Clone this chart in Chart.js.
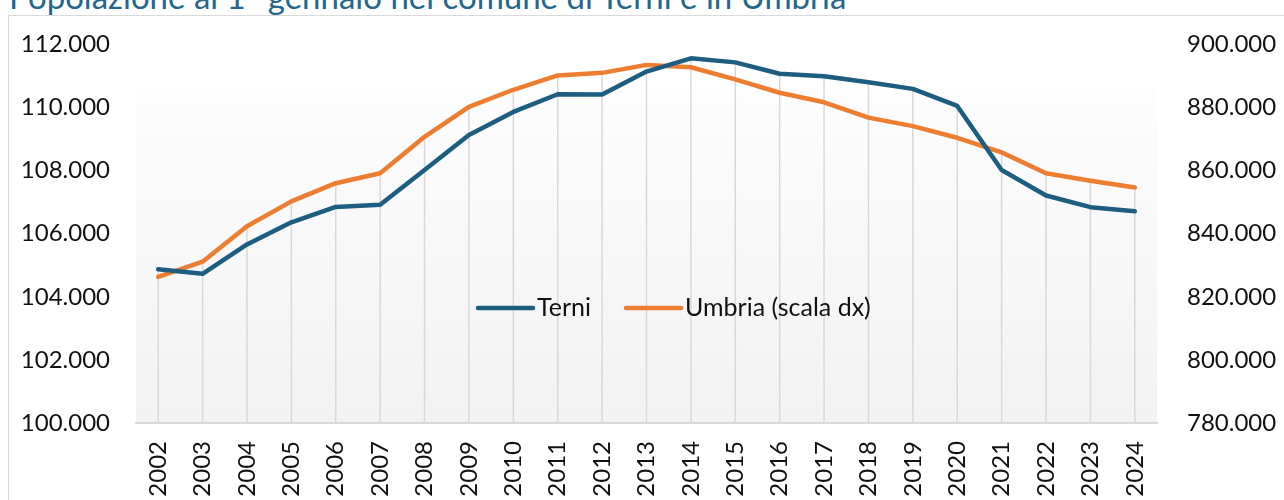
<!DOCTYPE html>
<html>
<head>
<meta charset="utf-8">
<script src="https://cdn.jsdelivr.net/npm/chart.js@4.4.1/dist/chart.umd.min.js"></script>
<style>
  body { margin: 0; background: #fff; overflow: hidden; }
  #titolo {
    position: absolute; left: 9px; top: -20px;
    font: 33px Lato, sans-serif; line-height: 33px;
    color: #25668a; white-space: nowrap;
  }
  #cornice {
    position: absolute; left: 8px; top: 15px; width: 1400px; height: 600px;
    border: 1.5px solid #d9d9d9; box-sizing: border-box;
  }
  #wrap { position: absolute; left: 0; top: 0; width: 1284px; height: 500px; }
</style>
</head>
<body>
<div id="titolo">Popolazione al 1° gennaio nel comune di Terni e in Umbria</div>
<div id="cornice"></div>
<div id="wrap"><canvas id="grafico" width="1284" height="500"></canvas></div>
<script>
// dati
var anni = ["2002", "2003", "2004", "2005", "2006", "2007", "2008", "2009", "2010", "2011", "2012",
  "2013", "2014", "2015", "2016", "2017", "2018", "2019", "2020", "2021", "2022", "2023", "2024"];
var terni = [104870, 104730, 105660, 106360, 106850, 106920, 108020, 109130, 109860, 110420, 110410,
  111140, 111560, 111430, 111070, 110990, 110800, 110590, 110050, 108020, 107210, 106840, 106710];
var umbria = [826300, 831120, 842370, 850250, 856010, 859160, 870720, 880170, 885620, 890160, 890980,
  893500, 892770, 888900, 884680, 881650, 876800, 874090, 870400, 865780, 859160, 856770, 854660];
var etichette = ["Terni", "Umbria (scala dx)"];

var BLU = "#1d5e80";
var ARANCIO = "#ed7d31";
var FONT = "Lato, sans-serif";

function migliaia(v) {
  return v.toString().replace(/\B(?=(\d{3})+(?!\d))/g, ".");
}

// sfondo sfumato dell'area del grafico
var sfondo = {
  id: "sfondo",
  beforeDraw: function (chart) {
    var a = chart.chartArea, ctx = chart.ctx;
    var top = a.top + 44;
    var g = ctx.createLinearGradient(0, top, 0, a.bottom);
    g.addColorStop(0, "#fdfdfd");
    g.addColorStop(1, "#f2f2f2");
    ctx.save();
    ctx.fillStyle = g;
    ctx.fillRect(a.left, top, a.right - a.left, a.bottom - top);
    ctx.restore();
  }
};

// linee di proiezione dal punto più alto fino all'asse
var proiezioni = {
  id: "proiezioni",
  beforeDatasetsDraw: function (chart) {
    var ctx = chart.ctx, bottom = chart.chartArea.bottom;
    var metas = chart.data.datasets.map(function (d, i) { return chart.getDatasetMeta(i); });
    ctx.save();
    ctx.strokeStyle = "#d9d9d9";
    ctx.lineWidth = 1.5;
    metas[0].data.forEach(function (pt, j) {
      var top = Math.min.apply(null, metas.map(function (m) { return m.data[j].y; }));
      ctx.beginPath();
      ctx.moveTo(pt.x, top);
      ctx.lineTo(pt.x, bottom);
      ctx.stroke();
    });
    ctx.restore();
  }
};

// legenda dentro l'area del grafico
var legenda = {
  id: "legenda",
  afterDatasetsDraw: function (chart) {
    var ctx = chart.ctx, a = chart.chartArea;
    var x = a.left + 342, y = a.top + 263.5;
    ctx.save();
    ctx.font = "25px " + FONT;
    ctx.textBaseline = "middle";
    ctx.textAlign = "left";
    chart.data.datasets.forEach(function (ds) {
      ctx.strokeStyle = ds.borderColor;
      ctx.lineWidth = 4.5;
      ctx.lineCap = "round";
      ctx.beginPath();
      ctx.moveTo(x, y);
      ctx.lineTo(x + 55, y);
      ctx.stroke();
      ctx.fillStyle = "#111";
      ctx.fillText(ds.label, x + 59, y);
      x += 148;
    });
    ctx.restore();
  }
};

var ctx = document.getElementById("grafico").getContext("2d");
var grafico = new Chart(ctx, {
  type: "line",
  data: {
    labels: anni,
    datasets: [
      {
        label: etichette[0],
        data: terni,
        yAxisID: "ySx",
        borderColor: BLU,
        backgroundColor: BLU,
        borderWidth: 4.5,
        pointRadius: 0,
        borderCapStyle: "round",
        borderJoinStyle: "round",
      },
      {
        label: etichette[1],
        data: umbria,
        yAxisID: "yDx",
        borderColor: ARANCIO,
        backgroundColor: ARANCIO,
        borderWidth: 4.5,
        pointRadius: 0,
        borderCapStyle: "round",
        borderJoinStyle: "round",
      },
    ],
  },
  options: {
    responsive: false,
    animation: false,
    layout: { padding: { top: 41.5, left: 0, right: 0, bottom: 0 } },
    plugins: {
      legend: { display: false },
      tooltip: { enabled: false },
    },
    scales: {
      x: {
        offset: true,
        grid: { display: false, drawTicks: false },
        border: { display: true, color: "#d9d9d9", width: 2 },
        ticks: {
          autoSkip: false,
          minRotation: 90,
          maxRotation: 90,
          padding: 18,
          color: "#111",
          font: { family: FONT, size: 24 },
        },
        afterFit: function (s) { s.height = 77; },
      },
      ySx: {
        position: "left",
        min: 100000,
        max: 112000,
        grid: { display: false, drawTicks: false },
        border: { display: false },
        ticks: {
          stepSize: 2000,
          padding: 26,
          color: "#111",
          font: { family: FONT, size: 24 },
          callback: migliaia,
        },
        afterFit: function (s) { s.width = 136; },
      },
      yDx: {
        position: "right",
        min: 780000,
        max: 900000,
        grid: { display: false, drawTicks: false },
        border: { display: false },
        ticks: {
          stepSize: 20000,
          padding: 30,
          color: "#111",
          font: { family: FONT, size: 24 },
          callback: migliaia,
        },
        afterFit: function (s) { s.width = 127; },
      },
    },
  },
  plugins: [sfondo, proiezioni, legenda],
});
</script>
</body>
</html>
